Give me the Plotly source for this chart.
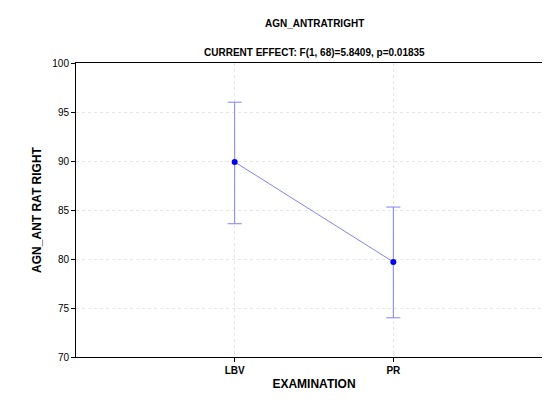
import plotly.graph_objects as go

categories = ["LBV", "PR"]
means = [89.9, 79.7]
upper = [96.0, 85.3]
lower = [83.6, 74.0]

err_plus = [u - m for u, m in zip(upper, means)]
err_minus = [m - l for m, l in zip(means, lower)]

fig = go.Figure(go.Scatter(
    x=[0, 1], y=means, mode="lines+markers",
    line=dict(color="#8080ff", width=1),
    marker=dict(color="#0000ff", size=6),
    error_y=dict(type="data", symmetric=False, array=err_plus, arrayminus=err_minus,
                 color="#8080ff", thickness=1, width=7),
))

font = dict(family="Liberation Sans", size=10, color="black")
fig.update_layout(
    width=550, height=411, showlegend=False,
    paper_bgcolor="white", plot_bgcolor="white",
    margin=dict(l=68, r=6, t=55, b=62),
    font=font,
)
fig.layout.annotations = [
    dict(text="<b>AGN_ANTRATRIGHT</b>", x=0.5, y=1.16, xref="paper", yref="paper", showarrow=False),
    dict(text="<b>CURRENT EFFECT: F(1, 68)=5.8409, p=0.01835</b>", x=0.5, y=1.06,
         xref="paper", yref="paper", showarrow=False),
]
fig.update_xaxes(
    range=[-1, 2], tickvals=[0, 1], ticktext=["<b>LBV</b>", "<b>PR</b>"],
    showgrid=True, gridcolor="#e6e6e6", griddash="dot",
    zeroline=False, showline=True, linecolor="black", mirror=True,
    ticks="outside", ticklen=4, tickcolor="black",
    title=dict(text="<b>EXAMINATION</b>", standoff=4),
)
fig.update_yaxes(
    range=[70, 100], dtick=5, tickformat="d",
    showgrid=True, gridcolor="#e6e6e6", griddash="dot",
    zeroline=False, showline=True, linecolor="black", mirror=True,
    ticks="outside", ticklen=4, tickcolor="black",
    title=dict(text="<b>AGN_ANT RAT RIGHT</b>", standoff=8),
)

fig.write_html("out.html")
